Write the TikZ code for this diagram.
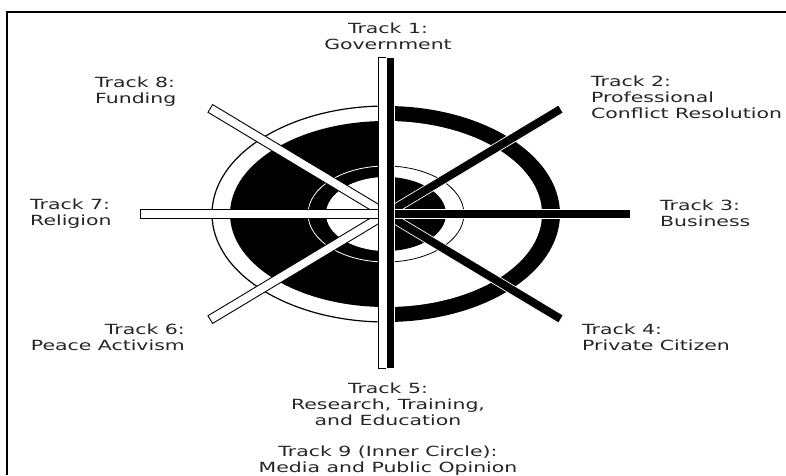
\documentclass[tikz,border=0pt]{standalone}
\usepackage{fontspec}
\setmainfont{DejaVu Sans}[FakeStretch=1.46]

\begin{document}
\begin{tikzpicture}[x=1pt, y=1pt,
    lbl/.style={font=\fontsize{14}{16}\selectfont, text=black!85, inner sep=0pt},
    whitebar/.style={fill=white, draw=black, line width=0.9pt},
    blackbar/.style={fill=black, draw=white, line width=0.7pt}]
  \useasboundingbox[fill=white] (-386,-261) rectangle (400,214);
  % frame
  \draw[line width=2.5pt] (-379,-261) -- (-379,202) -- (400,202);

  % left half of the target
  \draw[fill=white, line width=1.2pt] (0,108) arc[start angle=90, end angle=270, x radius=174, y radius=108];
  \fill (0,93) arc[start angle=90, end angle=270, x radius=156, y radius=93] -- cycle;
  \draw[white, line width=0.8pt] (0,48) arc[start angle=90, end angle=270, x radius=78, y radius=48];
  \fill[white] (0,37) arc[start angle=90, end angle=270, x radius=60, y radius=37] -- cycle;
  % right half of the target
  \fill (0,-108) arc[start angle=-90, end angle=90, x radius=174, y radius=108] -- cycle;
  \fill[white] (0,-93) arc[start angle=-90, end angle=90, x radius=156, y radius=93] -- cycle;
  \draw[line width=0.8pt] (0,-48) arc[start angle=-90, end angle=90, x radius=78, y radius=48];
  \fill (0,-37) arc[start angle=-90, end angle=90, x radius=60, y radius=37] -- cycle;

  % spokes
  \foreach \ang/\len/\sty in {149/205/whitebar, 211/205/whitebar, 31/204/blackbar, -31/204/blackbar, 180/246/whitebar, 0/244/blackbar}
    \draw[\sty, rotate=\ang] (0,-4.5) rectangle (\len,4.5);
  \draw[whitebar] (-8,-154) rectangle (0,157);
  \draw[blackbar] (0,-154) rectangle (8,157);

  % labels
  \node[lbl, align=center] (gov) at (2,178) {Track 1:\\Government};
  \node[lbl, align=left, anchor=west] (prof) at (205,117) {Track 2:\\Professional\\Conflict Resolution};
  \node[lbl, align=left, anchor=west] (bus) at (274,1) {Track 3:\\Business};
  \node[lbl, align=left, anchor=west] (cit) at (196,-123) {Track 4:\\Private Citizen};
  \node[lbl, align=center] (res) at (2,-190) {Track 5:\\Research, Training,\\and Education};
  \node[lbl, align=right, anchor=east] (peace) at (-201,-123) {Track 6:\\Peace Activism};
  \node[lbl, align=left, anchor=west] (rel) at (-356,0.5) {Track 7:\\Religion};
  \node[lbl, align=left, anchor=west] (fund) at (-291,122) {Track 8:\\Funding};
  \node[lbl, align=center] (media) at (2,-247) {Track 9 (Inner Circle):\\Media and Public Opinion};
\end{tikzpicture}
\end{document}
